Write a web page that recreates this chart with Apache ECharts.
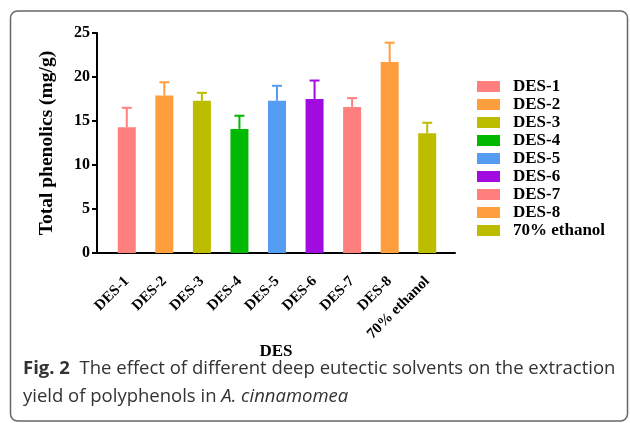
<!DOCTYPE html>
<html>
<head>
<meta charset="utf-8">
<script src="https://cdn.jsdelivr.net/npm/echarts@6/dist/echarts.min.js"></script>
<style>
html,body{margin:0;padding:0;background:#fff;}
#chart{width:630px;height:423px;}
</style>
</head>
<body>
<div id="chart"></div>
<script>
var categories = ['DES-1','DES-2','DES-3','DES-4','DES-5','DES-6','DES-7','DES-8','70% ethanol'];
var values = [14.3, 17.9, 17.3, 14.1, 17.3, 17.5, 16.6, 21.7, 13.6];
var errors = [2.2, 1.5, 0.9, 1.5, 1.7, 2.1, 1.0, 2.2, 1.2];
var colors = ['#FF7F7F','#FF9E3D','#BDBD00','#00B900','#559DF2','#A20BE0','#FF7F7F','#FF9E3D','#BDBD00'];
var yTicks = [0, 5, 10, 15, 20, 25];

var serif = 'Liberation Serif';
var sans = 'Open Sans';
var capSize = 18.5;

var barSeries = categories.map(function (name, i) {
  var d = categories.map(function (c, j) { return j === i ? values[i] : null; });
  return {
    name: name,
    type: 'bar',
    xAxisIndex: 1,
    yAxisIndex: 1,
    barWidth: 18,
    barGap: '-100%',
    itemStyle: { color: colors[i] },
    data: d,
    z: 2
  };
});

var errSeries = {
  type: 'custom',
  xAxisIndex: 1,
  yAxisIndex: 1,
  z: 1,
  data: categories.map(function (c, i) { return [i, values[i], values[i] + errors[i]]; }),
  renderItem: function (params, api) {
    var i = api.value(0);
    var p0 = api.coord([i, api.value(1)]);
    var p1 = api.coord([i, api.value(2)]);
    var c = colors[i];
    var st = { stroke: c, lineWidth: 2 };
    return {
      type: 'group',
      children: [
        { type: 'line', shape: { x1: p0[0], y1: p0[1], x2: p1[0], y2: p1[1] }, style: st },
        { type: 'line', shape: { x1: p1[0] - 5, y1: p1[1], x2: p1[0] + 5, y2: p1[1] }, style: st }
      ]
    };
  }
};

var chart = echarts.init(document.getElementById('chart'), null, { renderer: 'canvas' });
chart.setOption({
  animation: false,
  backgroundColor: '#fff',
  grid: [
    { left: 97, right: 175, top: 33, bottom: 170 },
    { left: 108, right: 184, top: 33, bottom: 170 }
  ],
  xAxis: [
    {
      gridIndex: 0, type: 'value', min: 0, max: 1,
      axisLine: { show: true, lineStyle: { color: '#000', width: 2 } },
      axisTick: { show: false }, axisLabel: { show: false }, splitLine: { show: false },
      name: 'DES', nameLocation: 'middle', nameGap: 90,
      nameTextStyle: { fontFamily: serif, fontWeight: 'bold', fontSize: 17, color: '#000' }
    },
    {
      gridIndex: 1, type: 'category', data: categories,
      axisLine: { show: false }, axisTick: { show: false },
      axisLabel: { rotate: 45, margin: 26, interval: 0, fontFamily: serif, fontWeight: 'bold', fontSize: 15, color: '#000' }
    }
  ],
  yAxis: [
    {
      gridIndex: 0, type: 'value', min: 0, max: 25, interval: 5,
      axisLine: { show: true, lineStyle: { color: '#000', width: 2 } },
      axisTick: { show: true, length: 5, lineStyle: { color: '#000', width: 2 } },
      axisLabel: { margin: 7, fontFamily: serif, fontWeight: 'bold', fontSize: 16, color: '#000',
        formatter: function (v) { return yTicks.indexOf(v) >= 0 ? String(v) : ''; } },
      splitLine: { show: false },
      name: 'Total phenolics (mg/g)', nameLocation: 'middle', nameGap: 40,
      nameTextStyle: { fontFamily: serif, fontWeight: 'bold', fontSize: 19.5, color: '#000' }
    },
    {
      gridIndex: 1, type: 'value', min: 0, max: 25, interval: 5, show: false
    }
  ],
  legend: {
    orient: 'vertical',
    left: 472, top: 73,
    itemWidth: 23, itemHeight: 11, itemGap: 1,
    icon: 'rect',
    data: categories,
    textStyle: { fontFamily: serif, fontWeight: 'bold', fontSize: 17, color: '#000', padding: [0, 0, 0, 8], lineHeight: 17 }
  },
  graphic: [
    { type: 'rect', shape: { x: 10.5, y: 11, width: 617, height: 410, r: 7 },
      style: { fill: 'none', stroke: '#666', lineWidth: 1.5 }, silent: true },
    { type: 'text', x: 23, y: 369,
      style: { text: '{b|Fig. 2}{n|  The effect of different deep eutectic solvents on the extraction}',
        fontFamily: sans, fontSize: capSize, fill: '#333', verticalAlign: 'middle', align: 'left',
        rich: {
          b: { fontFamily: sans, fontWeight: 'bold', fontSize: capSize, fill: '#333' },
          n: { fontFamily: sans, fontSize: capSize, fill: '#333' }
        } } },
    { type: 'text', x: 23, y: 397,
      style: { text: '{n|yield of polyphenols in }{i|A. cinnamomea}',
        fontFamily: sans, fontSize: capSize, fill: '#333', verticalAlign: 'middle', align: 'left',
        rich: {
          n: { fontFamily: sans, fontSize: capSize, fill: '#333' },
          i: { fontFamily: sans, fontStyle: 'italic', fontSize: capSize, fill: '#333' }
        } } }
  ],
  series: barSeries.concat([errSeries])
});
</script>
</body>
</html>
